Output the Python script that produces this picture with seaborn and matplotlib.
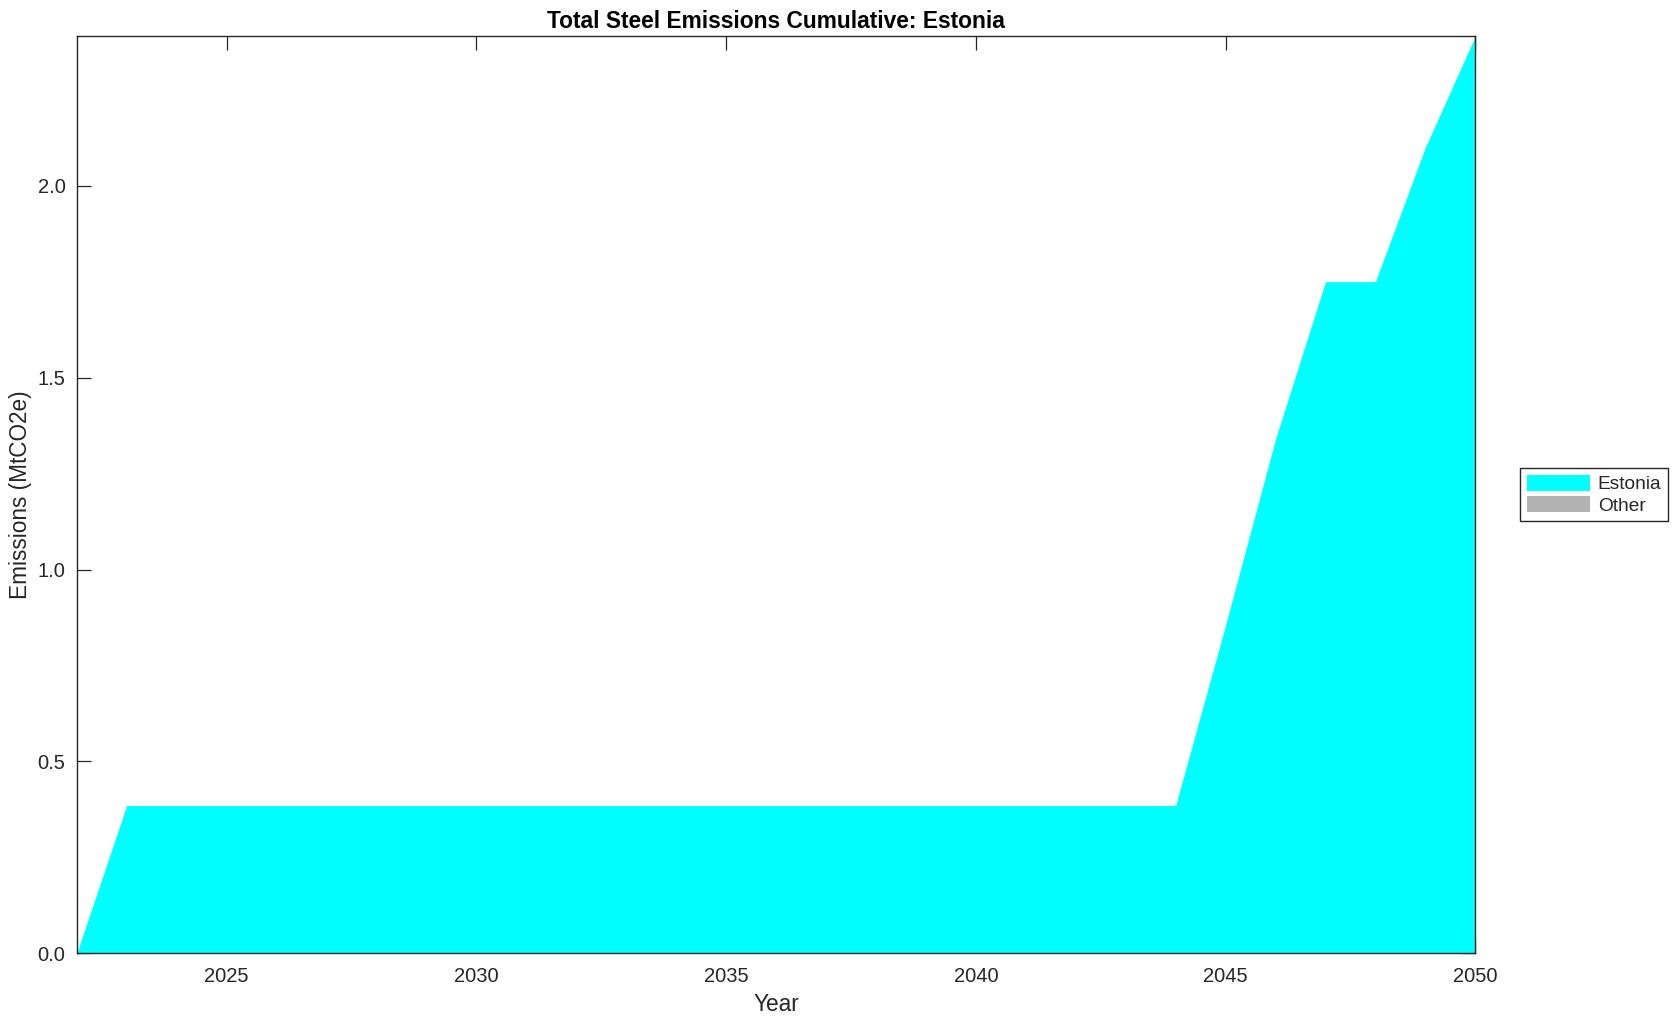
import numpy as np
import pandas as pd
import seaborn as sns
import matplotlib
matplotlib.use("Agg")
import matplotlib.pyplot as plt
from matplotlib.patches import Patch

# data (cumulative emissions, MtCO2e)
years = list(range(2022, 2051))
estonia = [0.0] + [0.385] * 22 + [0.855, 1.34, 1.75, 1.75, 2.10, 2.39]
other = [0.0] * len(years)
series_names = ["Estonia", "Other"]
series_colors = ["#00ffff", "#b3b3b3"]
xtick_vals = [2025, 2030, 2035, 2040, 2045, 2050]
ytick_vals = [0.0, 0.5, 1.0, 1.5, 2.0]

df = pd.DataFrame({"Year": years, "Estonia": estonia, "Other": other})

sns.set_theme(style="ticks")
plt.rcParams["font.family"] = ["Liberation Sans", "DejaVu Sans"]
plt.rcParams["axes.edgecolor"] = "#262626"
plt.rcParams["xtick.color"] = "#262626"
plt.rcParams["ytick.color"] = "#262626"

fig = plt.figure(figsize=(16.79, 10.21), dpi=100)
ax = fig.add_axes([0.0457, 0.0663, 0.833, 0.8984])

ax.stackplot(df["Year"], df["Estonia"], df["Other"],
             colors=series_colors, linewidth=0)

ax.set_xlim(2022, 2050)
ax.set_ylim(0, max(np.array(estonia) + np.array(other)))
ax.set_xticks(xtick_vals)
ax.set_xticklabels([str(x) for x in xtick_vals])
ax.set_yticks(ytick_vals)
ax.set_yticklabels([f"{v:.1f}" for v in ytick_vals])
ax.tick_params(direction="in", length=10, width=0.9, labelsize=14.5,
               top=True, right=True)
ax.tick_params(axis="x", pad=10)
ax.tick_params(axis="y", pad=8)
for s in ax.spines.values():
    s.set_linewidth(1.0)
    s.set_visible(True)
    s.set_zorder(5)

ax.set_xlabel("Year", fontsize=16.3, color="#262626", labelpad=5)
ax.set_ylabel("Emissions (MtCO2e)", fontsize=16.3, color="#262626", labelpad=4)
ax.set_title("Total Steel Emissions Cumulative: Estonia", fontsize=16.4,
             fontweight="bold", color="black", pad=6)

handles = [Patch(facecolor=c, edgecolor="none", label=n)
           for n, c in zip(series_names, series_colors)]
leg = ax.legend(handles=handles, loc="center left", bbox_to_anchor=(1.032, 0.5),
                fontsize=13.8, frameon=True, fancybox=False, framealpha=1,
                edgecolor="#262626", handlelength=3.3, handleheight=0.9,
                handletextpad=0.4, labelspacing=0.15, borderpad=0.35,
                borderaxespad=0)
leg.get_frame().set_linewidth(1.0)

fig.savefig("out.png", dpi=100)
